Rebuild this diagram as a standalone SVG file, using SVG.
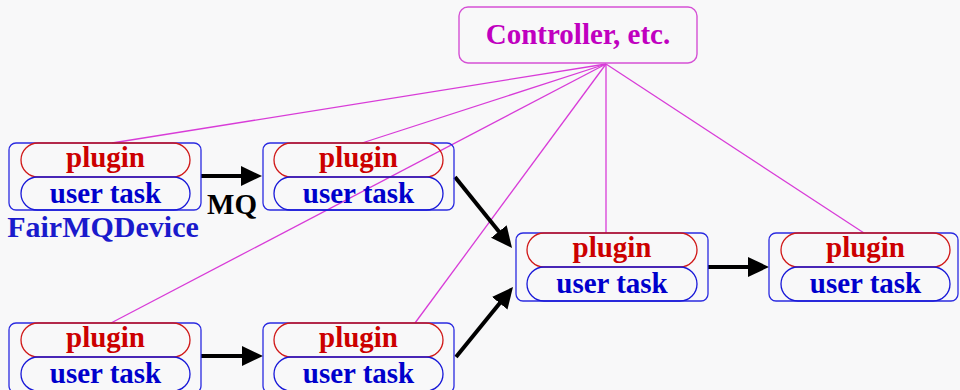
<svg xmlns="http://www.w3.org/2000/svg" width="960" height="390" viewBox="0 0 960 390">
<defs>
<style>
.bg{fill:#f8f8f9}
.outer{fill:none;stroke:#2a2ae0;stroke-width:1.3}
.plug{fill:none;stroke:#d01818;stroke-width:1.3}
.task{fill:none;stroke:#1818d8;stroke-width:1.3}
.t{font-family:"Liberation Serif","Times New Roman",serif;font-weight:bold;font-size:29px;text-anchor:middle}
.tp{fill:#cc0000}
.tu{fill:#0000cc}
.ctl{fill:none;stroke:#d550d5;stroke-width:1.4}
.ctlt{fill:#c000c0}
.link{stroke:#d83cd8;stroke-width:1.3;fill:none}
.arrow{stroke:#000;stroke-width:4;fill:none;marker-end:url(#ah)}
</style>
<marker id="ah" markerUnits="userSpaceOnUse" markerWidth="22" markerHeight="22" viewBox="0 0 22 22" refX="9" refY="11" orient="auto">
<path d="M0,1 L21,11 L0,21 Z" fill="#000"/>
</marker>
</defs>
<rect class="bg" x="0" y="0" width="960" height="390"/>

<g id="connectors">
<line class="link" x1="606" y1="64" x2="112" y2="143"/>
<line class="link" x1="606" y1="64" x2="362" y2="143"/>
<line class="link" x1="606" y1="64" x2="111" y2="323"/>
<line class="link" x1="606" y1="64" x2="415" y2="323"/>
<line class="link" x1="606" y1="64" x2="606" y2="233"/>
<line class="link" x1="606" y1="64" x2="864" y2="233"/>
<line class="arrow" x1="201" y1="176" x2="250" y2="176"/>
<line class="arrow" x1="201" y1="356" x2="251" y2="356"/>
<line class="arrow" x1="708" y1="267" x2="757" y2="267"/>
<line class="arrow" x1="455" y1="177" x2="504.5" y2="238.6"/>
<line class="arrow" x1="456" y1="357" x2="505.4" y2="296.3"/>
</g>

<g id="controller">
<rect class="ctl" x="459" y="7" width="238" height="56" rx="9"/>
<text class="t ctlt" x="578" y="44">Controller, etc.</text>
</g>

<g id="device1">
<rect class="outer" x="9" y="143" width="192" height="67" rx="7"/>
<rect class="plug" x="21" y="143" width="169" height="34" rx="17"/>
<rect class="task" x="21" y="177" width="169" height="33" rx="16.5"/>
<text class="t tp" x="105.5" y="167">plugin</text>
<text class="t tu" x="105.5" y="203">user task</text>
<text class="t tu" x="103" y="237" style="font-size:30px;fill:#1a1acc">FairMQDevice</text>
</g>

<text class="t" x="232" y="214" style="font-size:29px;fill:#000">MQ</text>

<g id="device2">
<rect class="outer" x="263" y="143" width="191" height="67" rx="7"/>
<rect class="plug" x="274" y="143" width="169" height="34" rx="17"/>
<rect class="task" x="274" y="177" width="169" height="33" rx="16.5"/>
<text class="t tp" x="358.5" y="167">plugin</text>
<text class="t tu" x="358.5" y="203">user task</text>
</g>

<g id="device3">
<rect class="outer" x="516" y="233" width="192" height="68" rx="7"/>
<rect class="plug" x="527" y="233" width="170" height="34" rx="17"/>
<rect class="task" x="527" y="267" width="170" height="34" rx="17"/>
<text class="t tp" x="612" y="257">plugin</text>
<text class="t tu" x="612" y="293">user task</text>
</g>

<g id="device4">
<rect class="outer" x="769" y="233" width="189" height="68" rx="7"/>
<rect class="plug" x="781" y="233" width="169" height="34" rx="17"/>
<rect class="task" x="781" y="267" width="169" height="34" rx="17"/>
<text class="t tp" x="865.5" y="257">plugin</text>
<text class="t tu" x="865.5" y="293">user task</text>
</g>

<g id="device5">
<rect class="outer" x="9" y="323" width="192" height="70" rx="7"/>
<rect class="plug" x="21" y="323" width="169" height="34" rx="17"/>
<rect class="task" x="21" y="357" width="169" height="34" rx="17"/>
<text class="t tp" x="105.5" y="347">plugin</text>
<text class="t tu" x="105.5" y="383">user task</text>
</g>

<g id="device6">
<rect class="outer" x="263" y="323" width="191" height="70" rx="7"/>
<rect class="plug" x="274" y="323" width="169" height="34" rx="17"/>
<rect class="task" x="274" y="357" width="169" height="34" rx="17"/>
<text class="t tp" x="358.5" y="347">plugin</text>
<text class="t tu" x="358.5" y="383">user task</text>
</g>
</svg>
